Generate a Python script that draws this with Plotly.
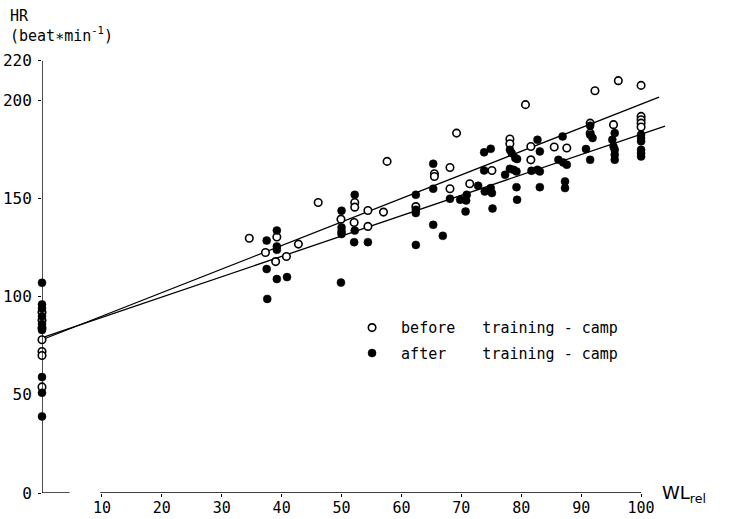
import plotly.graph_objects as go

# ---- data ----
# before training-camp (open circles)
before_x = [0, 0, 0, 0, 0, 0, 0,
            34.6, 37.3, 39.2, 39.0, 40.8, 42.8, 46.1, 49.9,
            52.2, 52.2, 52.1, 54.4, 54.4, 57.0, 57.6, 62.4,
            65.5, 65.5, 68.1, 68.1, 69.2, 71.4, 75.1,
            78.1, 78.1, 80.7, 81.6, 81.6, 85.5, 87.6,
            91.5, 91.5, 92.3, 95.4, 96.2,
            100, 100, 100, 100, 100]
before_y = [92, 88, 84, 78, 72, 70, 54,
            129.7, 122.4, 130.3, 117.8, 120.4, 126.7, 147.9, 139.4,
            147.9, 145.5, 137.7, 143.8, 135.7, 143.0, 168.8, 145.8,
            162.5, 161.1, 165.7, 154.9, 183.2, 157.4, 164.2,
            180.2, 177.8, 197.7, 176.4, 169.6, 176.1, 175.6,
            188.3, 183.2, 204.8, 187.5, 209.9,
            207.5, 191.7, 190.0, 188.3, 186.3]

# after training-camp (filled circles)
after_x = [0, 0, 0, 0, 0, 0, 0, 0, 0,
           37.5, 37.5, 37.6, 39.2, 39.2, 39.2, 39.2, 40.9,
           50.0, 50.0, 50.0, 50.0, 49.9,
           52.2, 52.2, 52.1, 54.4,
           62.4, 62.4, 62.4, 62.4,
           65.3, 65.3, 65.3, 66.9, 68.1, 69.8, 70.9, 70.8, 70.7,
           72.8, 73.8, 73.8, 73.9, 74.9, 74.9, 75.1, 75.2,
           78.1, 78.4, 79.0, 79.3, 78.1, 78.7, 79.2, 77.3, 79.2, 79.3,
           81.7, 82.7, 82.7, 83.1, 83.1, 83.1,
           86.9, 86.2, 87.0, 87.6, 87.3, 87.3,
           91.5, 91.5, 91.9, 90.8, 91.5,
           95.6, 95.2, 95.4, 95.6, 95.6, 95.6,
           100, 100, 100, 100, 100, 100]
after_y = [107, 96, 94, 90, 86, 83, 59, 51, 39,
           128.5, 114.0, 98.8, 133.6, 125.5, 123.8, 108.9, 109.9,
           143.7, 135.2, 133.1, 131.8, 107.1,
           151.8, 133.6, 127.7, 127.7,
           151.8, 144.2, 142.5, 126.3,
           167.6, 154.9, 136.5, 130.9, 149.8, 149.3, 151.8, 148.9, 143.3,
           156.4, 173.4, 164.2, 153.5, 175.2, 155.2, 152.7, 144.8,
           174.7, 173.0, 170.5, 170.0, 165.0, 164.5, 163.7, 162.0, 155.7, 149.3,
           164.0, 179.8, 164.5, 173.9, 163.7, 155.7,
           181.5, 169.6, 168.3, 167.1, 158.6, 155.2,
           187.0, 182.4, 180.7, 175.1, 169.6,
           183.2, 179.8, 176.4, 174.7, 172.2, 169.6,
           182.4, 180.7, 179.0, 174.7, 173.0, 171.3]

# regression lines (end points)
fit_before_x = [0.3, 103.0]
fit_before_y = [78.4, 201.5]
fit_after_x = [0.3, 104.0]
fit_after_y = [79.3, 186.8]

x_ticks = [10, 20, 30, 40, 50, 60, 70, 80, 90, 100]
y_ticks = [0, 50, 100, 150, 200, 220]

MONO = "DejaVu Sans Mono"
SANS = "DejaVu Sans"

fig = go.Figure()

fig.add_trace(go.Scatter(x=fit_before_x, y=fit_before_y, mode="lines",
                         line=dict(color="black", width=1.3),
                         showlegend=False, hoverinfo="skip", cliponaxis=False))
fig.add_trace(go.Scatter(x=fit_after_x, y=fit_after_y, mode="lines",
                         line=dict(color="black", width=1.3),
                         showlegend=False, hoverinfo="skip", cliponaxis=False))

fig.add_trace(go.Scatter(x=before_x, y=before_y, mode="markers",
                         name="\u00a0before\u00a0\u00a0\u00a0training\u00a0-\u00a0camp",
                         legendgroup="a",
                         marker=dict(symbol="circle", size=7.5, color="white",
                                     line=dict(color="black", width=1.6)),
                         cliponaxis=False))
fig.add_trace(go.Scatter(x=after_x, y=after_y, mode="markers",
                         name="\u00a0after\u00a0\u00a0\u00a0\u00a0training\u00a0-\u00a0camp",
                         legendgroup="b",
                         marker=dict(symbol="circle", size=8, color="black",
                                     line=dict(color="black", width=0.5)),
                         cliponaxis=False))

# axis lines (y axis and the broken x axis)
line_style = dict(color="black", width=1.4)
fig.add_shape(type="line", xref="x", yref="y", x0=0, x1=0, y0=0, y1=220, line=line_style)
fig.add_shape(type="line", xref="x", yref="y", x0=0, x1=4.6, y0=0, y1=0, line=line_style)
fig.add_shape(type="line", xref="x", yref="y", x0=9.7, x1=100, y0=0, y1=0, line=line_style)

fig.update_layout(
    width=733, height=519,
    margin=dict(l=42, r=32, t=51, b=26, autoexpand=False),
    paper_bgcolor="white", plot_bgcolor="white",
    font=dict(family=MONO, size=15, color="black"),
    xaxis=dict(range=[0, 110], tickvals=x_ticks, ticktext=[str(v) for v in x_ticks],
               showgrid=False, zeroline=False, showline=False, automargin=False,
               ticks="outside", ticklen=3, tickwidth=1.2, tickcolor="black",
               ticklabelstandoff=-2,
               tickfont=dict(family=MONO, size=15)),
    yaxis=dict(range=[0, 225], tickvals=y_ticks, ticktext=[str(v) for v in y_ticks],
               showgrid=False, zeroline=False, showline=False, automargin=False,
               ticks="outside", ticklen=3, tickwidth=1.2, tickcolor="black",
               ticklabelstandoff=3,
               tickfont=dict(family=MONO, size=16)),
    legend=dict(x=0.4705, y=0.411, xanchor="left", yanchor="top",
                bgcolor="rgba(0,0,0,0)", font=dict(family=MONO, size=15),
                itemwidth=30, traceorder="grouped", tracegroupgap=3),
    showlegend=True,
)

fig.add_annotation(text="HR<br>(beat\u2217min<sup>-1</sup>)", xref="paper", yref="paper",
                   x=0, y=1, xanchor="left", yanchor="bottom", xshift=-34, yshift=4,
                   showarrow=False, align="left", font=dict(family=MONO, size=15))
fig.add_annotation(text="WL<sub>rel</sub>", xref="x", yref="y", x=103.2, y=0,
                   xanchor="left", yanchor="middle", yshift=-1,
                   showarrow=False, font=dict(family=SANS, size=18))

fig.write_html("out.html")
